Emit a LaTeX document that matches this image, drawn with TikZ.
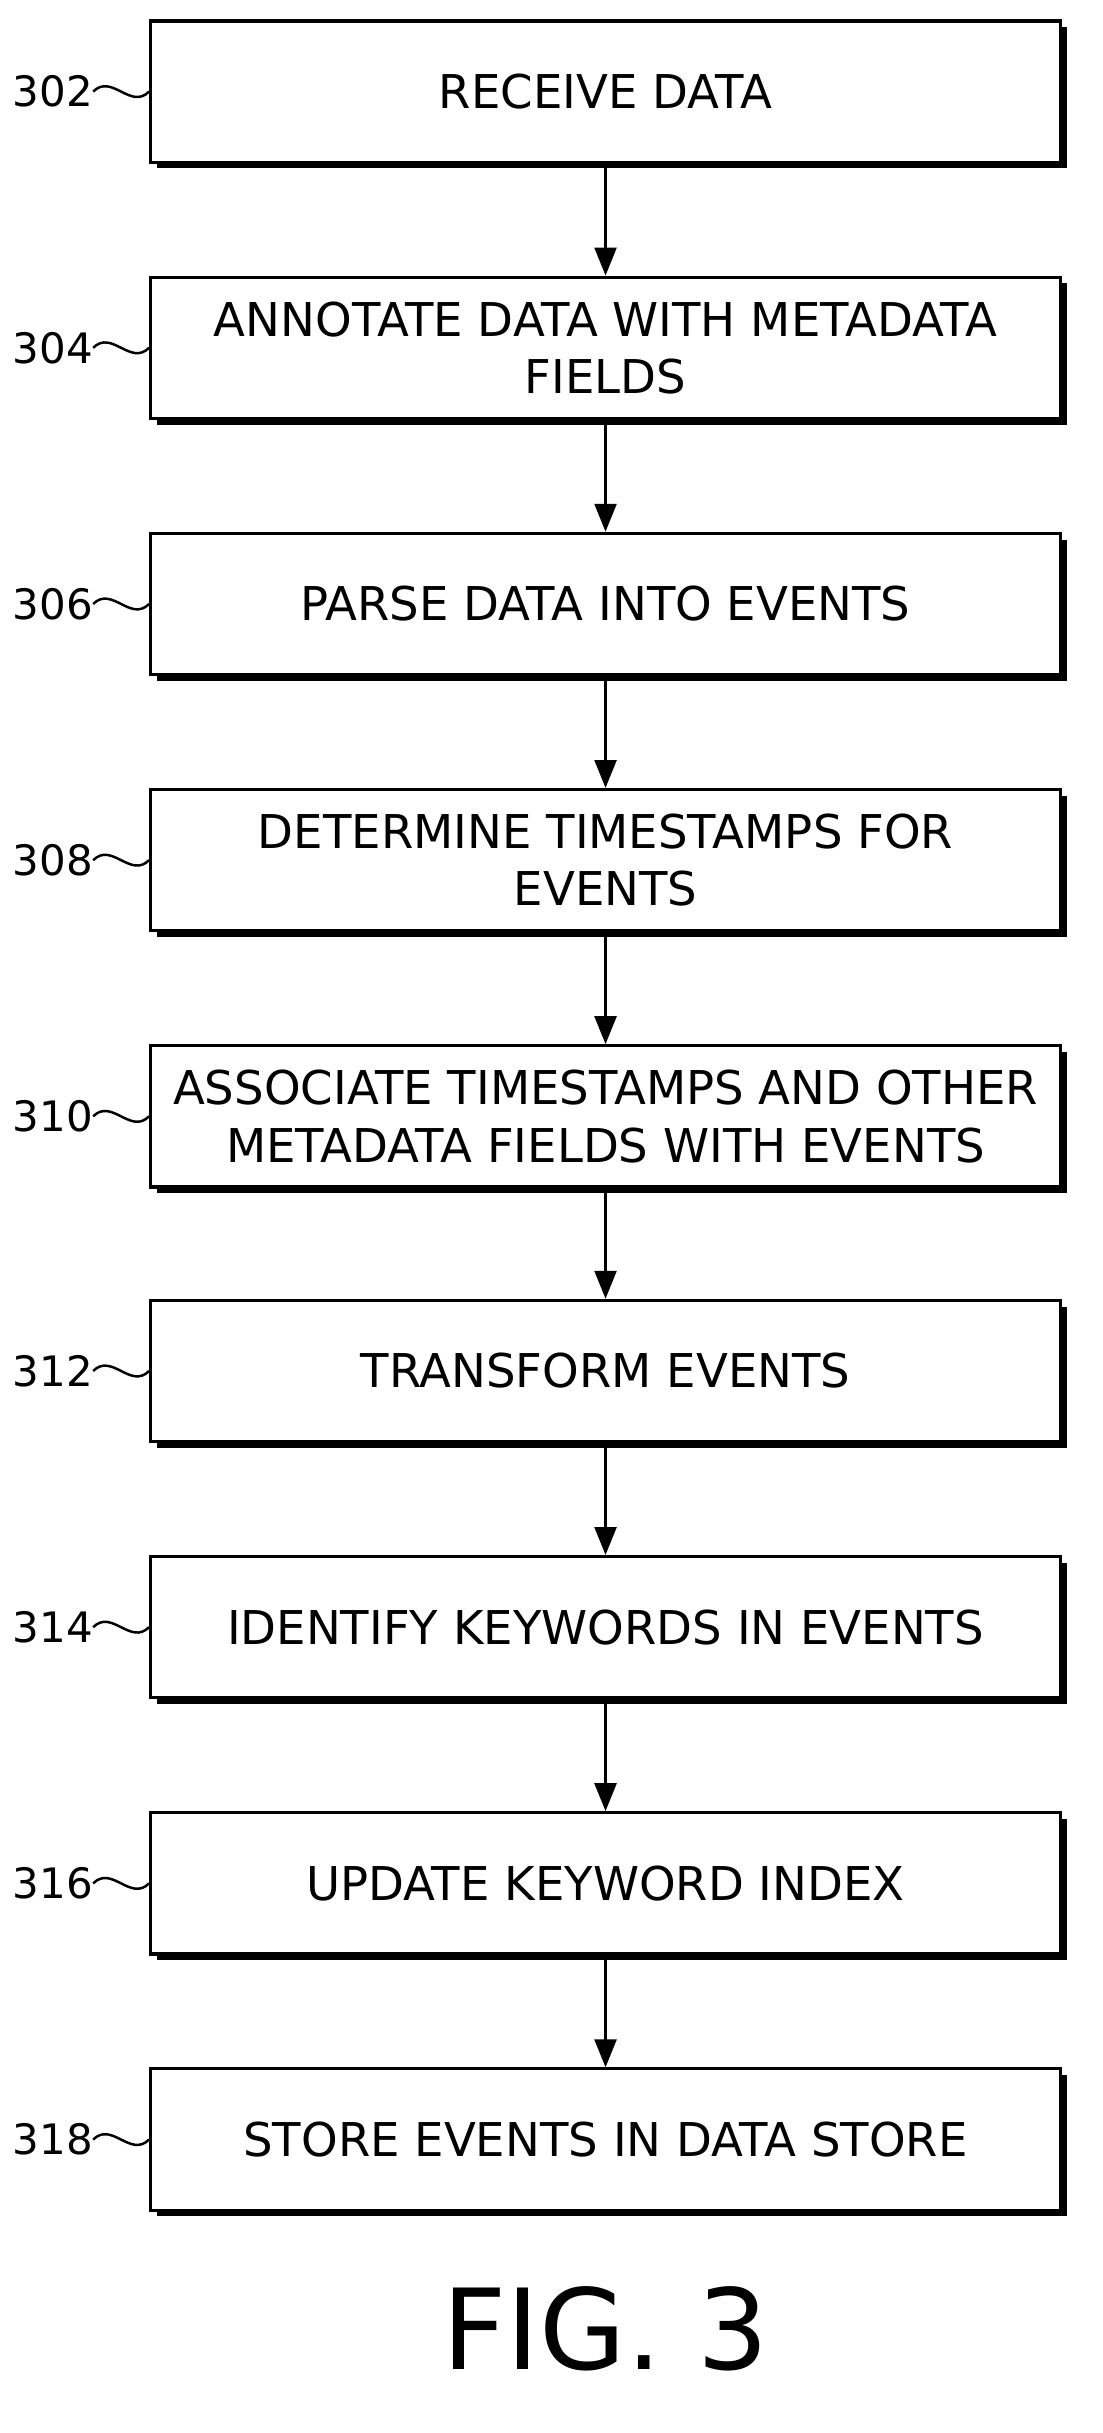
\documentclass[tikz,border=0pt]{standalone}
\usepackage{fontspec}
\setmainfont{DejaVu Sans}
\usetikzlibrary{arrows.meta}
\tikzset{
  stepbox/.style={draw=black, line width=2pt, fill=white, minimum width=586pt, minimum height=91pt,
    align=center, font=\fontsize{30}{37}\selectfont, inner sep=2pt},
  tag/.style={font=\fontsize{27}{30}\selectfont, anchor=east, inner sep=0pt},
  flow/.style={line width=2pt, -{Triangle[length=18pt,width=14pt]}},
  wig/.style={line width=1.6pt}
}
\newcommand{\flowstep}[4]{% name, y, tag, text
  \fill (101,#2-41.5) rectangle (687,#2+49.5);
  \node[stepbox] (s#1) at (390,#2) {#4};
  \node[tag] (l#1) at (60,#2) {#3};
  \draw[wig] (l#1.east) .. controls +(12,-12) and +(-12,12) .. (s#1.west);
}
\begin{document}
\begin{tikzpicture}[x=1pt,y=-1pt]
\useasboundingbox (0,0) rectangle (710,1567);
\flowstep{302}{59}{302}{RECEIVE DATA}
\flowstep{304}{224}{304}{ANNOTATE DATA WITH METADATA\\FIELDS}
\flowstep{306}{389}{306}{PARSE DATA INTO EVENTS}
\flowstep{308}{554}{308}{DETERMINE TIMESTAMPS FOR\\EVENTS}
\flowstep{310}{719}{310}{ASSOCIATE TIMESTAMPS AND OTHER\\METADATA FIELDS WITH EVENTS}
\flowstep{312}{883}{312}{TRANSFORM EVENTS}
\flowstep{314}{1048}{314}{IDENTIFY KEYWORDS IN EVENTS}
\flowstep{316}{1213}{316}{UPDATE KEYWORD INDEX}
\flowstep{318}{1378}{318}{STORE EVENTS IN DATA STORE}
\draw[flow] (s302.south) -- (s304.north);
\draw[flow] (s304.south) -- (s306.north);
\draw[flow] (s306.south) -- (s308.north);
\draw[flow] (s308.south) -- (s310.north);
\draw[flow] (s310.south) -- (s312.north);
\draw[flow] (s312.south) -- (s314.north);
\draw[flow] (s314.south) -- (s316.north);
\draw[flow] (s316.south) -- (s318.north);
\node[font=\fontsize{72}{80}\selectfont] (fig) at (390,1500) {FIG. 3};
\end{tikzpicture}
\end{document}
